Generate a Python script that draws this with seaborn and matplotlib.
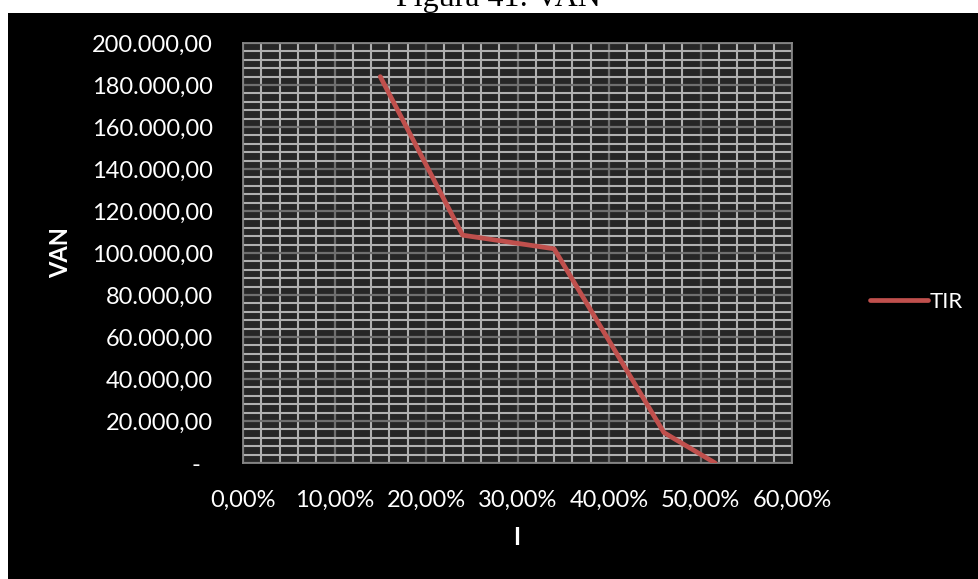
import matplotlib
matplotlib.use("Agg")
import matplotlib.pyplot as plt
from matplotlib.patches import Rectangle
from matplotlib.ticker import MultipleLocator, FuncFormatter
import seaborn as sns
import pandas as pd

# Discount rate (I) versus net present value (VAN)
rates = [0.15, 0.24, 0.34, 0.46, 0.516]
van = [184000, 108500, 102000, 14500, 0]
series_name = "TIR"
title = "Figura 41: VAN"
x_label = "I"
y_label = "VAN"

df = pd.DataFrame({"I": rates, "VAN": van, "serie": series_name})

sns.set_style("dark")
plt.rcParams["font.family"] = ["Lato", "DejaVu Sans"]

W, H = 979, 579
fig = plt.figure(figsize=(W / 100, H / 100), dpi=100, facecolor="white")

# black chart area below the caption
fig.patches.append(Rectangle((8 / W, 0), 1 - 8 / W, (H - 13) / H,
                             transform=fig.transFigure, facecolor="black",
                             edgecolor="none", zorder=-10))
fig.text(498.5 / W, 1 - 6 / H, title, ha="center", va="baseline",
         family="Liberation Serif", fontsize=23, color="black", zorder=5)

ax = fig.add_axes([243 / W, 1 - 463 / H, 549 / W, 420 / H])
ax.set_facecolor("#262626")

sns.lineplot(data=df, x="I", y="VAN", hue="serie", palette=["#C0504D"],
             linewidth=3.4, ax=ax, sort=False, zorder=5)
for ln in ax.get_lines():
    ln.set_solid_capstyle("round")
    ln.set_solid_joinstyle("round")

ax.set_xlim(0, 0.60)
ax.set_ylim(0, 200000)
ax.xaxis.set_major_locator(MultipleLocator(0.10))
ax.xaxis.set_minor_locator(MultipleLocator(0.02))
ax.yaxis.set_major_locator(MultipleLocator(20000))
ax.yaxis.set_minor_locator(MultipleLocator(4000))


def fmt_pct(v, pos):
    return f"{v * 100:.2f}%".replace(".", ",")


def fmt_num(v, pos):
    if abs(v) < 1e-9:
        return "-  "
    s = f"{v:,.2f}"
    return s.replace(",", "X").replace(".", ",").replace("X", ".")


ax.xaxis.set_major_formatter(FuncFormatter(fmt_pct))
ax.yaxis.set_major_formatter(FuncFormatter(fmt_num))

ax.grid(True, which="minor", color="#B0B0B0", linewidth=1.5, zorder=1)
ax.grid(True, which="major", color="#6F6F6F", linewidth=1.6, zorder=2)
ax.set_axisbelow(True)

ax.tick_params(axis="both", which="major", colors="#868686", labelcolor="white",
               labelsize=17, length=6.5, width=1.2)
ax.tick_params(axis="x", which="major", pad=13)
ax.tick_params(axis="y", which="major", pad=15)
ax.tick_params(axis="both", which="minor", length=0)
for sp in ax.spines.values():
    sp.set_visible(True)
    sp.set_color("#868686")
    sp.set_linewidth(1.3)

ax.set_xlabel(x_label, color="white", fontsize=17, fontweight="bold")
ax.set_ylabel(y_label, color="white", fontsize=17, fontweight="bold")
ax.xaxis.set_label_coords((517 - 243) / 549, (463 - 526) / 420)
ax.yaxis.set_label_coords((72 - 243) / 549, 0.5)

leg = ax.legend(loc="center left", bbox_to_anchor=(870 / W, 1 - 302 / H),
                bbox_transform=fig.transFigure, frameon=False, fontsize=16,
                handlelength=2.6, handletextpad=0.1, borderpad=0, borderaxespad=0)
for t in leg.get_texts():
    t.set_color("white")
for h in leg.get_lines():
    h.set_linewidth(3.4)

fig.savefig("out.png", dpi=100, facecolor="white")
